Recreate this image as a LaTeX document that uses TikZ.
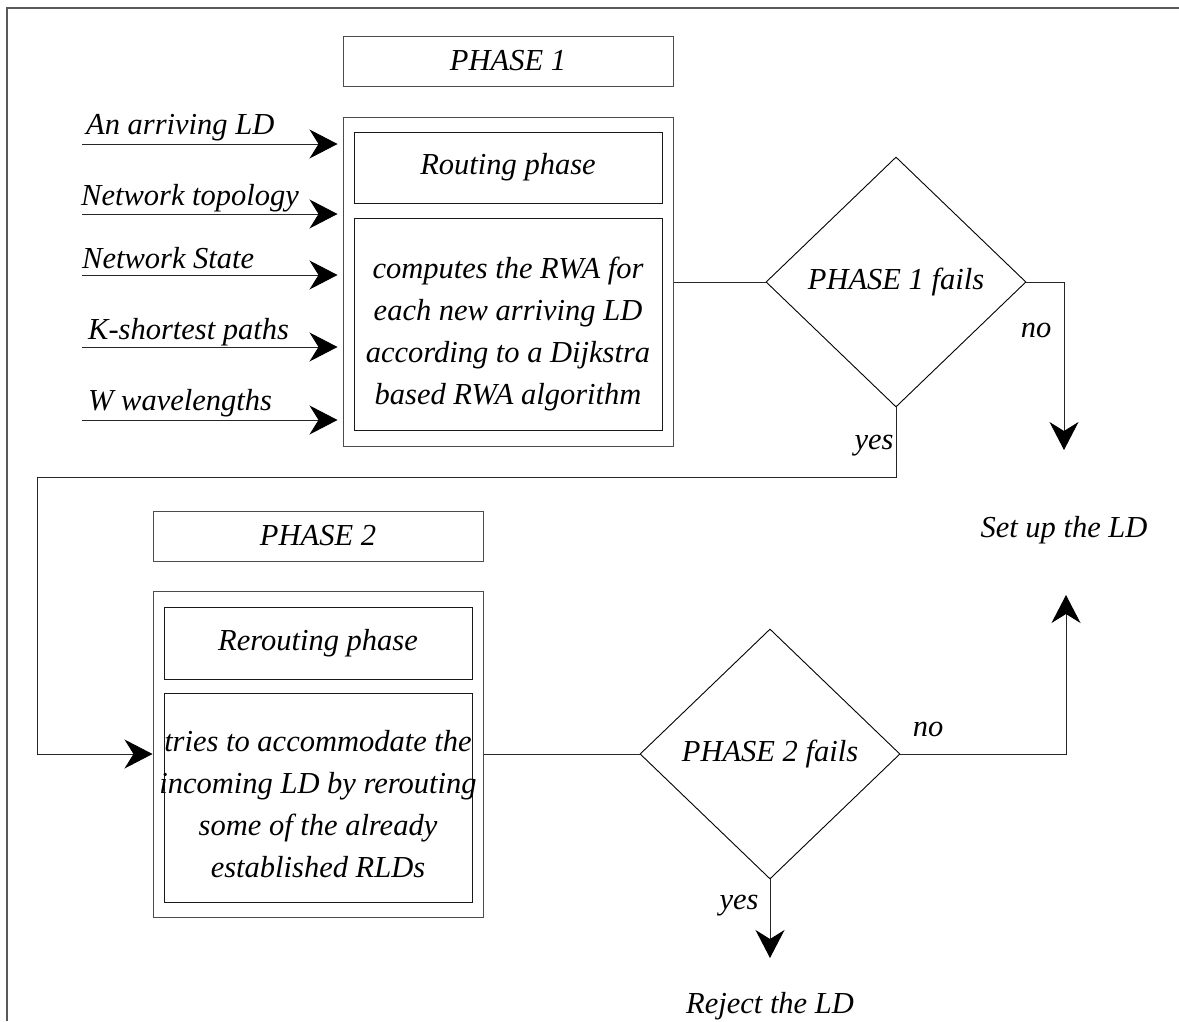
\documentclass[tikz,border=0pt]{standalone}
\usepackage{fontspec}
\setmainfont{Liberation Serif}
\usetikzlibrary{shapes.geometric,arrows.meta}
\begin{document}
\begin{tikzpicture}[x=1pt,y=-1pt,
  every node/.style={font=\fontsize{30.5}{42}\selectfont\itshape, text=black},
  outerbox/.style={draw=black!70, line width=1pt, rectangle, minimum width=330pt, inner sep=0pt},
  innerbox/.style={draw=black!90, line width=1pt, rectangle, minimum width=308pt, inner sep=0pt},
  decision/.style={draw=black, line width=0.9pt, diamond, minimum width=260pt, minimum height=250pt, inner sep=0pt},
  conn/.style={draw=black!85, line width=0.9pt},
  arr/.style={conn, -{Stealth[length=28pt,width=29pt,inset=9pt,fill=black,color=black]}},
  txt/.style={inner sep=0pt},
]
\useasboundingbox (0,0) rectangle (1179,1021);
\draw[draw=black!65, line width=1.5pt] (1179,8) -- (7,8) -- (7,1021);

% Phase 1
\node[outerbox, minimum height=50pt] (p1) at (508,61) {PHASE 1};
\node[outerbox, minimum height=329pt] (o1) at (508,281.5) {};
\node[innerbox, minimum height=71pt] (r1) at (508,167.5) {Routing phase};
\node[innerbox, minimum height=212pt] (c1) at (508,324) {};
\node[txt, align=center] (c1t) at (508,334) {computes the RWA for\\each new arriving LD\\according to a Dijkstra\\based RWA algorithm};

% inputs
\coordinate (i1) at (82,144);
\coordinate (i2) at (82,214);
\coordinate (i3) at (82,275);
\coordinate (i4) at (82,347);
\coordinate (i5) at (82,420);
\node[txt, anchor=base west] (l1) at (86,134) {An arriving LD};
\node[txt, anchor=base west] (l2) at (81,205) {Network topology};
\node[txt, anchor=base west] (l3) at (82,268) {Network State};
\node[txt, anchor=base west] (l4) at (88,339) {K-shortest paths};
\node[txt, anchor=base west] (l5) at (88,410) {W wavelengths};
\foreach \i in {i1,i2,i3,i4,i5}
  \draw[arr, shorten >=5pt] (\i) -- (\i -| o1.west);

% Decision 1
\node[decision] (d1) at (896,282) {PHASE 1 fails};
\draw[conn] (o1.east |- d1.west) -- (d1.west);
\coordinate (s1) at (1064,450);
\draw[arr] (d1.east) -| (s1);
\node[txt] (no1) at (1036,330) {no};
\node[txt] (setup) at (1064,530) {Set up the LD};
\node[txt] (yes1) at (874,446) {yes};

% Phase 2
\node[outerbox, minimum height=50pt] (p2) at (318,536) {PHASE 2};
\node[outerbox, minimum height=326pt] (o2) at (318,754) {};
\node[innerbox, minimum height=72pt] (r2) at (318,643) {Rerouting phase};
\node[innerbox, minimum height=209pt] (c2) at (318,797.5) {};
\node[txt, align=center] (c2t) at (318,804) {tries to accommodate the\\incoming LD by rerouting\\some of the already\\established RLDs};

\draw[arr] (d1.south) -- (896,477) -- (37,477) |- (o2.west);

% Decision 2
\node[decision] (d2) at (770,754) {PHASE 2 fails};
\draw[conn] (o2.east) -- (d2.west);
\coordinate (s2) at (1066,595);
\draw[arr] (d2.east) -| (s2);
\node[txt] (no2) at (928,729) {no};
\coordinate (rj) at (770,958);
\draw[arr] (d2.south) -- (rj);
\node[txt] (yes2) at (739,906) {yes};
\node[txt] (reject) at (770,1006) {Reject the LD};
\end{tikzpicture}
\end{document}
